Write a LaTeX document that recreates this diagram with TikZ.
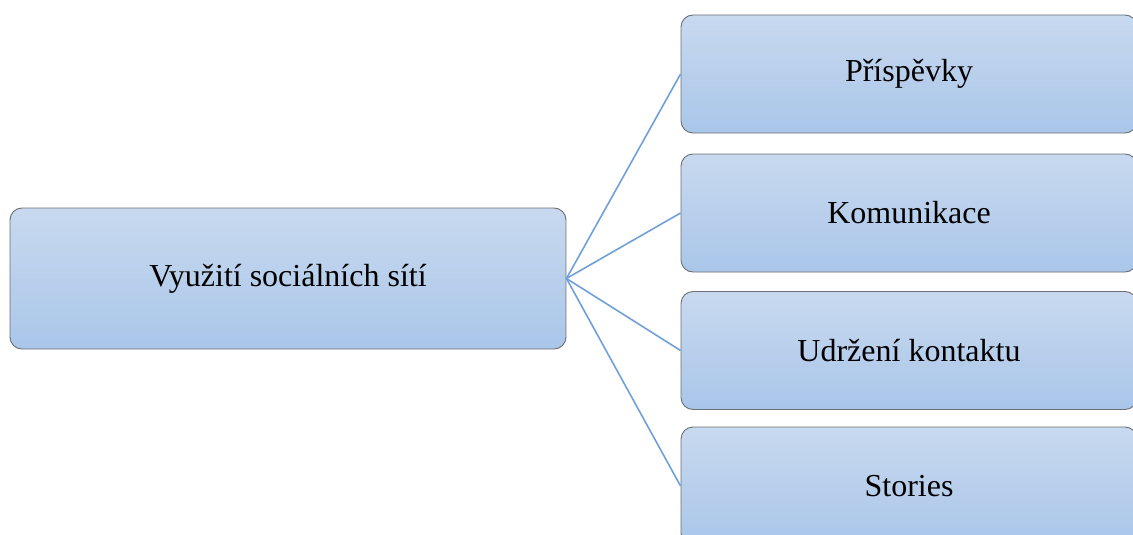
\documentclass[tikz,border=0pt]{standalone}
\usepackage{fontspec}
\setmainfont{Liberation Serif}
\definecolor{boxtop}{HTML}{C8D9EF}
\definecolor{boxbot}{HTML}{A9C6E9}
\definecolor{boxline}{HTML}{6B6F75}
\definecolor{linkblue}{HTML}{6FA0DA}
\tikzset{
  topic/.style={draw=boxline, line width=0.9pt, rounded corners=12pt,
    top color=boxtop, bottom color=boxbot,
    font=\rmfamily\fontsize{32}{38}\selectfont, inner sep=0pt},
  mainbox/.style={topic, minimum width=556pt, minimum height=141pt},
  subbox/.style={topic, minimum width=456pt, minimum height=118pt}
}
\begin{document}
\begin{tikzpicture}[x=1pt, y=-1pt]
      \useasboundingbox (0,0) rectangle (1133,535);
      \clip (0,0) rectangle (1133,535);
      \draw
        (288,278.5) node[mainbox] (use){Využití sociálních sítí}
        (909,74) node[subbox] (posts){Příspěvky}
        (909,213) node[subbox] (comm){Komunikace}
        (909,350.5) node[subbox] (contact){Udržení kontaktu}
        (909,486) node[subbox] (stories){Stories};
      \begin{scope}[-, draw=linkblue, line width=1.6pt]
        \draw (use.east) to (posts.west);
        \draw (use.east) to (comm.west);
        \draw (use.east) to (contact.west);
        \draw (use.east) to (stories.west);
      \end{scope}
    \end{tikzpicture}
\end{document}
